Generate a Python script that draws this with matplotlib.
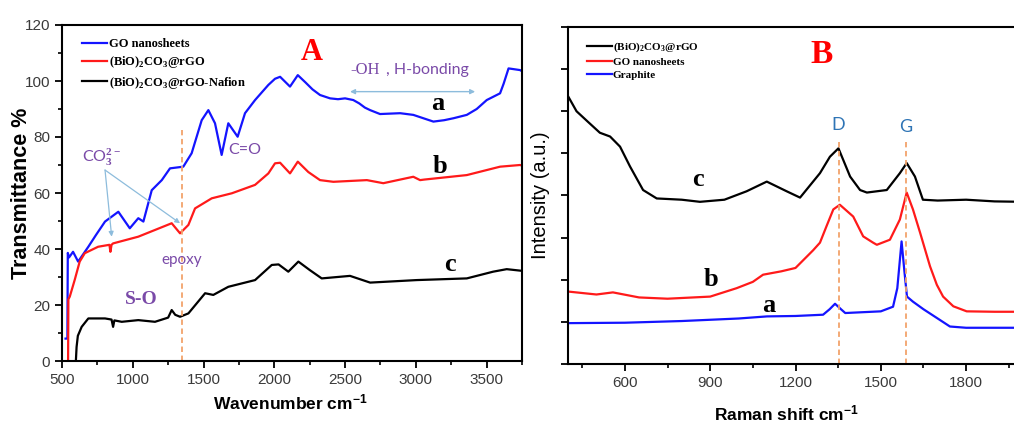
import matplotlib
matplotlib.use('Agg')
import matplotlib.pyplot as plt
from matplotlib.ticker import MultipleLocator, NullFormatter

plt.rcParams['mathtext.fontset'] = 'custom'
plt.rcParams['mathtext.rm'] = 'Liberation Serif:bold'
plt.rcParams['mathtext.sf'] = 'Liberation Sans:bold'
plt.rcParams['mathtext.it'] = 'Lato'
plt.rcParams['mathtext.bf'] = 'Liberation Serif:bold'

# ---- panel A: FTIR ----
go_x = [525, 538, 541, 550, 578, 614, 686, 740, 804, 898, 979, 1039, 1075, 1134, 1205, 1263, 1357,
        1416, 1487, 1534, 1581, 1628, 1675, 1741, 1793, 1864, 1958, 2005, 2041, 2111, 2166,
        2220, 2270, 2323, 2394, 2450, 2500, 2558, 2600, 2640, 2677, 2747, 2889, 2982, 3124,
        3200, 3266, 3360, 3430, 3501, 3595, 3620, 3655, 3736, 3750]
go_y = [8, 8, 38.6, 37, 39, 35.5, 40.8, 45, 49.8, 53.3, 47.4, 51, 49.8, 61, 64.6, 68.8, 69.4,
        74.2, 86, 89.6, 84.9, 73.6, 84.9, 80.1, 88.5, 93.2, 98.6, 100.8, 101.5, 98, 102.1,
        99.5, 97, 95, 93.8, 93.5, 93.8, 93.2, 92, 90.5, 89.6, 88.2, 88.5, 87.9, 85.5,
        86, 86.7, 87.9, 90, 93.2, 95.6, 99, 104.5, 103.9, 103.5]

bi_x = [543, 545, 555, 590, 625, 661, 755, 835, 842, 850, 861, 1039, 1157, 1275, 1334, 1393,
        1440, 1558, 1700, 1864, 1958, 2005, 2041, 2111, 2166, 2240, 2323, 2417, 2654, 2770, 2982,
        3030, 3060, 3360, 3595, 3736, 3750]
bi_y = [0, 22, 23, 29, 35.5, 38.5, 40.8, 41.5, 39, 41.5, 42, 44.4, 46.8, 49.2, 45.6, 48.6,
        54.5, 58.1, 59.9, 62.9, 67, 70.6, 70.8, 67, 71.2, 67.5, 64.6, 64, 64.6, 63.5, 65.8,
        64.6, 64.8, 66.4, 69.4, 70, 69.8]

naf_x = [598, 603, 612, 639, 686, 804, 850, 861, 870, 922, 1039, 1157, 1250, 1275, 1300, 1334,
         1393, 1511, 1569, 1675, 1864, 1982, 2030, 2099, 2170, 2250, 2335, 2535, 2677, 3006, 3360,
         3546, 3642, 3750]
naf_y = [0, 5, 9, 12.2, 15.2, 15.2, 14.8, 12.2, 14.5, 14, 14.6, 14, 15.5, 18.2, 16.5, 15.8,
         17, 24.2, 23.6, 26.5, 28.9, 34.3, 34.5, 31.9, 35.5, 32.5, 29.5, 30.4, 28, 28.9, 29.5,
         31.9, 32.8, 32.2]

# ---- panel B: Raman ----
rg_x = [400, 430, 470, 512, 548, 583, 618, 664, 712, 800, 864, 950, 1028, 1099, 1169, 1216,
        1286, 1321, 1351, 1392, 1427, 1451, 1521, 1567, 1591, 1620, 1648, 1700, 1800, 1900, 2000]
rg_y = [6.36, 6.0, 5.75, 5.49, 5.4, 5.16, 4.69, 4.13, 3.93, 3.9, 3.85, 3.9, 4.1, 4.33, 4.1, 3.95,
        4.53, 4.92, 5.12, 4.45, 4.13, 4.07, 4.13, 4.53, 4.77, 4.45, 3.9, 3.88, 3.9, 3.86, 3.85]

gon_x = [400, 500, 558, 650, 750, 900, 993, 1050, 1086, 1150, 1200, 1262, 1286, 1309, 1333,
         1356, 1403, 1438, 1473, 1486, 1532, 1567, 1591, 1613, 1638, 1673, 1697, 1719, 1755,
         1802, 1900, 2000]
gon_y = [1.72, 1.65, 1.70, 1.58, 1.55, 1.6, 1.8, 1.95, 2.12, 2.2, 2.28, 2.7, 2.88, 3.27, 3.67,
         3.78, 3.5, 3.03, 2.88, 2.83, 2.95, 3.43, 4.07, 3.67, 3.12, 2.32, 1.88, 1.6, 1.37,
         1.25, 1.24, 1.24]

gr_x = [400, 600, 800, 1000, 1100, 1200, 1297, 1320, 1339, 1360, 1375, 1500, 1543, 1558,
        1573, 1583, 1592, 1613, 1650, 1700, 1743, 1800, 2000]
gr_y = [0.97, 0.98, 1.02, 1.08, 1.13, 1.14, 1.17, 1.3, 1.43, 1.3, 1.21, 1.25, 1.36, 1.8,
        2.91, 2.2, 1.6, 1.48, 1.3, 1.08, 0.89, 0.86, 0.86]

legend_a = ['GO nanosheets', '(BiO)$_2$CO$_3$@rGO', '(BiO)$_2$CO$_3$@rGO-Nafion']
legend_b = ['(BiO)$_2$CO$_3$@rGO', 'GO nanosheets', 'Graphite']

blue = '#1414ff'
red = '#ff1a1a'
orange = '#f2a36b'
purple = '#7a4aa8'
arrowc = '#8dbcdc'
tickc = '#3a3a3a'

fig = plt.figure(figsize=(10.14, 4.23), dpi=100)
axA = fig.add_axes([62/1014, 1-361/423, 460/1014, 336/423])
axB = fig.add_axes([568/1014, 1-364/423, 455/1014, 337/423])

serif = 'Liberation Serif'
sans = 'Liberation Sans'
note = 'Lato'

# panel A
axA.plot(go_x, go_y, color=blue, lw=1.6, label=legend_a[0])
axA.plot(bi_x, bi_y, color=red, lw=1.6, label=legend_a[1])
axA.plot(naf_x, naf_y, color='black', lw=1.6, label=legend_a[2])
axA.plot([1345, 1345], [0, 82.5], color=orange, lw=1.3, ls=(0, (3, 2)))
axA.set_xlim(500, 3750)
axA.set_ylim(0, 120)
axA.xaxis.set_major_locator(MultipleLocator(500))
axA.xaxis.set_minor_locator(MultipleLocator(250))
axA.yaxis.set_major_locator(MultipleLocator(20))
axA.yaxis.set_minor_locator(MultipleLocator(10))
axA.set_xlabel('Wavenumber cm$^{\\mathsf{-1}}$', fontsize=12.5, fontweight='bold', family=sans)
axA.set_ylabel('Transmittance %', fontsize=15.5, fontweight='bold', family=sans)
axA.xaxis.set_label_coords(0.496, -0.095)
axA.yaxis.set_label_coords(-0.066, 0.5)
axA.legend(loc='upper left', bbox_to_anchor=(0.02, 0.995), frameon=False,
           prop={'family': serif, 'weight': 'bold', 'size': 9},
           handlelength=2.0, handletextpad=0.1, labelspacing=0.35)

axA.text(2265, 110, 'A', color='red', fontsize=22, fontweight='bold', family=serif,
         ha='center', va='center')
axA.text(2535, 104, '-OH', color=purple, fontsize=12, family=serif, ha='left', va='center')
axA.text(2790, 104, ', H-bonding', color=purple, fontsize=11.5, family=note, ha='left', va='center')
axA.annotate('', xy=(3419, 96.2), xytext=(2535, 96.2),
             arrowprops=dict(arrowstyle='<|-|>', color=arrowc, lw=1, mutation_scale=7,
                             shrinkA=0, shrinkB=0))
axA.text(3157, 92.1, 'a', fontsize=19, fontweight='bold', family=serif, ha='center', va='center')
axA.text(3171, 69.3, 'b', fontsize=19, fontweight='bold', family=serif, ha='center', va='center')
axA.text(3242, 34.6, 'c', fontsize=19, fontweight='bold', family=serif, ha='center', va='center')
axA.text(1793, 75.4, 'C=O', color=purple, fontsize=11.5, family=note, ha='center', va='center')
axA.text(781, 72.7, 'CO$_{\\mathit{3}}^{\\mathit{2-}}$', color=purple, fontsize=11.5, family=note,
         ha='center', va='center')
for tip in [(851, 44.4), (1334, 49.2)]:
    axA.annotate('', xy=tip, xytext=(804, 68.2),
                 arrowprops=dict(arrowstyle='-|>', color=arrowc, lw=0.9, mutation_scale=7,
                                 shrinkA=0, shrinkB=0))
axA.text(1346, 36, 'epoxy', color=purple, fontsize=11, family=note, ha='center', va='center')
axA.text(1063, 21.8, 'S-O', color=purple, fontsize=14, fontweight='bold', family=serif,
         ha='center', va='center')

# panel B
axB.plot(rg_x, rg_y, color='black', lw=1.6, label=legend_b[0])
axB.plot(gon_x, gon_y, color=red, lw=1.6, label=legend_b[1])
axB.plot(gr_x, gr_y, color=blue, lw=1.6, label=legend_b[2])
axB.plot([1354, 1354], [0, 5.27], color=orange, lw=1.3, ls=(0, (3, 2)))
axB.plot([1589, 1589], [0, 5.27], color=orange, lw=1.3, ls=(0, (3, 2)))
axB.set_xlim(400, 2000)
axB.set_ylim(0, 8)
axB.xaxis.set_minor_locator(MultipleLocator(150))
axB.set_xticks([600, 900, 1200, 1500, 1800])
axB.yaxis.set_major_locator(MultipleLocator(1))
axB.yaxis.set_major_formatter(NullFormatter())
axB.spines['right'].set_visible(False)
axB.set_xlabel('Raman shift cm$^{\\mathsf{-1}}$', fontsize=12.5, fontweight='bold', family=sans)
axB.set_ylabel('Intensity (a.u.)', fontsize=14.5, family=sans)
axB.xaxis.set_label_coords(0.481, -0.118)
axB.yaxis.set_label_coords(-0.04, 0.5)
axB.legend(loc='upper left', bbox_to_anchor=(0.02, 0.99), frameon=False,
           prop={'family': serif, 'weight': 'bold', 'size': 8},
           handlelength=2.2, handletextpad=0.1, labelspacing=0.3)
axB.text(1292, 7.34, 'B', color='red', fontsize=24, fontweight='bold', family=serif,
         ha='center', va='center')
axB.text(1349, 5.68, 'D', color='#2e74b5', fontsize=13, family=note, ha='center', va='center')
axB.text(1588, 5.63, 'G', color='#2e74b5', fontsize=13, family=note, ha='center', va='center')
axB.text(857, 4.37, 'c', fontsize=19, fontweight='bold', family=serif, ha='center', va='center')
axB.text(902, 2.0, 'b', fontsize=19, fontweight='bold', family=serif, ha='center', va='center')
axB.text(1107, 1.40, 'a', fontsize=19, fontweight='bold', family=serif, ha='center', va='center')

for ax in (axA, axB):
    for s in ax.spines.values():
        s.set_linewidth(1.5)
    ax.tick_params(which='major', direction='out', length=5, width=1.3, labelsize=11,
                   labelcolor=tickc)
    ax.tick_params(which='minor', direction='out', length=3, width=1.2)
    for lbl in ax.get_xticklabels() + ax.get_yticklabels():
        lbl.set_family(sans)

fig.savefig('out.png', dpi=100)
